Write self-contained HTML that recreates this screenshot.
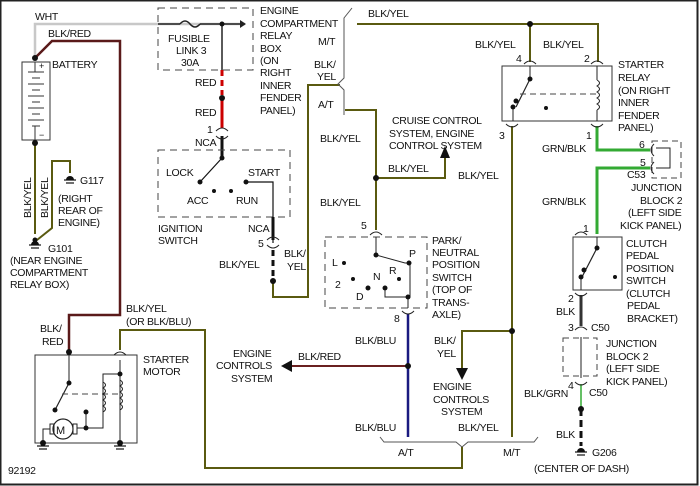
<!DOCTYPE html>
<html><head><meta charset="utf-8"><style>
html,body{margin:0;padding:0;background:#fff}
svg{display:block}
text{font-family:"Liberation Sans",Arial,sans-serif;font-size:10.5px;fill:#111;letter-spacing:-0.3px}
</style></head><body>
<svg width="700" height="486" viewBox="0 0 700 486" xmlns="http://www.w3.org/2000/svg">
<rect x="0.5" y="0.5" width="697" height="484" fill="#fff" stroke="#222" stroke-width="2"/>
<g fill="none" stroke-linejoin="miter">
<!-- WHT -->
<polyline points="35,58 35,24 245,24" stroke="#c8c8c8" stroke-width="2.5"/>
<polyline points="158,24 180,24" stroke="#222" stroke-width="1.5"/>
<path d="M180,24 q5,-6 10,0 q5,6 10,0" stroke="#222" stroke-width="1.5"/>
<line x1="200" y1="24" x2="240" y2="24" stroke="#222" stroke-width="1.5"/>
<polygon points="240,20 246,24 240,28" fill="#222"/>
<line x1="222" y1="24" x2="222" y2="70" stroke="#222" stroke-width="1.5"/>
<!-- fusible box -->
<rect x="158" y="8" width="95" height="62" stroke="#444" stroke-width="1" stroke-dasharray="7,5"/>
<!-- red -->
<line x1="222" y1="70" x2="222" y2="95" stroke="#c00" stroke-width="3" stroke-dasharray="6,4"/>
<line x1="222" y1="100" x2="222" y2="128" stroke="#c00" stroke-width="3"/>
<line x1="222" y1="136" x2="222" y2="158" stroke="#111" stroke-width="3"/>
<!-- BLK/RED -->
<polyline points="35,58 52,41 120,41 120,315 69,315 69,352" stroke="#5a1a1a" stroke-width="2.5"/>
<!-- Battery -->
<rect x="22" y="62" width="28" height="78" stroke="#333" stroke-width="1"/>
<g stroke="#333" stroke-width="1">
<line x1="28" y1="72" x2="44" y2="72"/><line x1="32" y1="78" x2="40" y2="78"/>
<line x1="28" y1="84" x2="44" y2="84"/><line x1="32" y1="90" x2="40" y2="90"/>
<line x1="28" y1="96" x2="44" y2="96"/><line x1="32" y1="102" x2="40" y2="102"/>
<line x1="28" y1="108" x2="44" y2="108"/><line x1="32" y1="114" x2="40" y2="114"/>
<line x1="28" y1="120" x2="44" y2="120"/><line x1="32" y1="126" x2="40" y2="126"/>
<line x1="35" y1="62" x2="35" y2="72"/><line x1="35" y1="126" x2="35" y2="140"/>
</g>
<!-- BLK/YEL grounds -->
<polyline points="35,143 35,234" stroke="#5a5a10" stroke-width="2"/>
<polyline points="37,240 52,228 52,161 70,161 70,173" stroke="#5a5a10" stroke-width="2"/>
<!-- Ignition switch -->
<rect x="158" y="150" width="132" height="67" stroke="#444" stroke-width="1" stroke-dasharray="7,5"/>
<line x1="222" y1="158" x2="200" y2="182" stroke="#111" stroke-width="1.2"/>
<polyline points="246,182 273,182 273,243" stroke="#111" stroke-width="1.2"/>
<line x1="273" y1="217" x2="273" y2="240" stroke="#111" stroke-width="3"/>
<line x1="273" y1="250" x2="273" y2="281" stroke="#111" stroke-width="3" stroke-dasharray="6,4"/>
<polyline points="273,281 273,297 308,297 308,85 340,85" stroke="#5a5a10" stroke-width="2"/>
<!-- bracket near M/T A/T -->
<path d="M352,8 l-8,10 v60 l-6,6 l6,6 v25" stroke="#555" stroke-width="1"/>
<!-- top BLK/YEL -->
<polyline points="357,24 598,24 598,62" stroke="#5a5a10" stroke-width="2"/>
<line x1="530" y1="24" x2="530" y2="62" stroke="#5a5a10" stroke-width="2"/>
<!-- relay -->
<rect x="502" y="66" width="110" height="55" stroke="#333" stroke-width="1"/>
<line x1="530" y1="66" x2="530" y2="79" stroke="#222" stroke-width="1"/>
<line x1="530" y1="79" x2="516" y2="107" stroke="#222" stroke-width="1.2"/>
<line x1="513" y1="107" x2="513" y2="121" stroke="#222" stroke-width="1"/>
<line x1="520" y1="94" x2="596" y2="94" stroke="#444" stroke-width="1" stroke-dasharray="6,4"/>
<line x1="597" y1="66" x2="597" y2="80" stroke="#222" stroke-width="1"/>
<path d="M597,80 q5,3 0,6 q5,3 0,6 q5,3 0,6 q5,3 0,6 q5,3 0,6" stroke="#222" stroke-width="1"/>
<line x1="597" y1="110" x2="597" y2="121" stroke="#222" stroke-width="1"/>
<!-- pin3 wire -->
<polyline points="512,126 512,437" stroke="#5a5a10" stroke-width="2"/>
<polyline points="512,331 462,331 462,368" stroke="#5a5a10" stroke-width="2"/>
<!-- GRN/BLK -->
<polyline points="597,126 597,150 650,150" stroke="#3a3" stroke-width="3"/>
<polyline points="650,168 597,168 597,234" stroke="#3a3" stroke-width="3"/>
<rect x="652" y="141" width="29" height="37" stroke="#444" stroke-width="1" stroke-dasharray="6,4"/>
<polyline points="656,148 670,148 670,168 656,168" stroke="#222" stroke-width="1"/>
<!-- clutch switch -->
<rect x="573" y="237" width="49" height="53" stroke="#333" stroke-width="1"/>
<line x1="597" y1="237" x2="597" y2="248" stroke="#222" stroke-width="1"/>
<line x1="597" y1="248" x2="582" y2="277" stroke="#222" stroke-width="1.2"/>
<line x1="581" y1="277" x2="581" y2="290" stroke="#222" stroke-width="1"/>
<line x1="581" y1="295" x2="581" y2="326" stroke="#333" stroke-width="3"/>
<rect x="563" y="338" width="34" height="38" stroke="#444" stroke-width="1" stroke-dasharray="6,4"/>
<line x1="581" y1="337" x2="581" y2="378" stroke="#222" stroke-width="1"/>
<line x1="581" y1="384" x2="581" y2="409" stroke="#3a3" stroke-width="1.5"/>
<line x1="581" y1="409" x2="581" y2="446" stroke="#111" stroke-width="3" stroke-dasharray="7,4"/>
<!-- A/T branch -->
<polyline points="345,110 376,110 376,230" stroke="#5a5a10" stroke-width="2"/>
<polyline points="376,178 445,178 445,158" stroke="#5a5a10" stroke-width="2"/>
<!-- PNP -->
<rect x="325" y="237" width="102" height="71" stroke="#444" stroke-width="1" stroke-dasharray="7,5"/>
<polyline points="376,237 376,255 405,263 410,263 410,297 385,297 385,288" stroke="#222" stroke-width="1"/>
<line x1="408" y1="297" x2="408" y2="308" stroke="#222" stroke-width="1"/>
<line x1="408" y1="314" x2="408" y2="437" stroke="#1a1a80" stroke-width="2.5"/>
<line x1="408" y1="366" x2="290" y2="366" stroke="#6a2020" stroke-width="2"/>
<!-- bottom bracket -->
<path d="M380,437 l4,5 h72 l6,5 l6,-5 h66 l4,-5" stroke="#555" stroke-width="1"/>
<polyline points="462,447 462,468 205,468 205,330 120,330 120,350" stroke="#5a5a10" stroke-width="2"/>
<!-- starter -->
<rect x="35" y="355" width="102" height="88" stroke="#333" stroke-width="1"/>
<line x1="69" y1="355" x2="69" y2="383" stroke="#222" stroke-width="1"/>
<line x1="69" y1="383" x2="55" y2="410" stroke="#222" stroke-width="1.2"/>
<line x1="62" y1="394" x2="120" y2="394" stroke="#444" stroke-width="1" stroke-dasharray="6,4"/>
<line x1="120" y1="360" x2="120" y2="443" stroke="#222" stroke-width="1"/>
<polyline points="120,374 103,374 103,428 86,428" stroke="#222" stroke-width="1"/>
<path d="M120,380 q5,3 0,6 q5,3 0,6 q5,3 0,6 q5,3 0,6 q5,3 0,6" stroke="#222" stroke-width="1"/>
<path d="M103,382 q5,3 0,6 q5,3 0,6 q5,3 0,6 q5,3 0,6 q5,3 0,6" stroke="#222" stroke-width="1"/>
<line x1="86" y1="412" x2="86" y2="428" stroke="#222" stroke-width="1"/>
<circle cx="63" cy="429" r="10" stroke="#222" stroke-width="1.2"/>
<rect x="50" y="424" width="4" height="10" stroke="#222" stroke-width="1"/>
<rect x="73" y="424" width="4" height="10" stroke="#222" stroke-width="1"/>
<polyline points="77,428 86,428" stroke="#222"/>
<polyline points="50,429 43,429 43,443" stroke="#222"/>
<!-- connector arcs -->
<g stroke="#222" stroke-width="1">
<path d="M216,131 q6,-6 12,0"/><path d="M216,136 q6,6 12,0"/>
<path d="M267,240 q6,-6 12,0"/><path d="M267,245 q6,6 12,0"/>
<path d="M524,64 q6,-6 12,0"/><path d="M591,64 q6,-6 12,0"/>
<path d="M506,124 q6,6 12,0"/><path d="M591,124 q6,6 12,0"/>
<path d="M370,235 q6,-6 12,0"/><path d="M402,311 q6,6 12,0"/>
<path d="M114,355 q6,-6 12,0"/>
<path d="M575,235 q6,-6 12,0"/><path d="M575,293 q6,6 12,0"/>
<path d="M575,330 q6,-6 12,0"/><path d="M575,382 q6,6 12,0"/>
<path d="M654,144 q-6,6 0,12"/><path d="M654,162 q-6,6 0,12"/>
</g>
</g>
<!-- arrowheads -->
<g fill="#111">
<polygon points="440,158 450,158 445,146"/>
<polygon points="456,368 468,368 462,380"/>
<polygon points="292,360 292,372 281,366"/>
</g>
<!-- dots -->
<g fill="#111">
<circle cx="35" cy="58" r="3"/><circle cx="35" cy="143" r="3"/><circle cx="222" cy="24" r="2.5"/>
<circle cx="222" cy="98" r="3"/><circle cx="222" cy="158" r="2.5"/><circle cx="200" cy="182" r="2.5"/>
<circle cx="214" cy="191" r="2"/><circle cx="231" cy="191" r="2"/><circle cx="246" cy="182" r="2.5"/>
<circle cx="273" cy="281" r="3"/><circle cx="530" cy="24" r="3"/><circle cx="376" cy="178" r="3"/>
<circle cx="530" cy="79" r="2.5"/><circle cx="516" cy="101" r="2.5"/><circle cx="513" cy="107" r="2.5"/>
<circle cx="546" cy="108" r="2"/><circle cx="512" cy="331" r="3"/><circle cx="408" cy="366" r="3"/>
<circle cx="597" cy="248" r="2.5"/><circle cx="584" cy="270" r="2.5"/><circle cx="581" cy="277" r="2.5"/>
<circle cx="615" cy="277" r="2"/><circle cx="581" cy="409" r="3"/>
<circle cx="376" cy="255" r="2.5"/><circle cx="409" cy="263" r="2.5"/><circle cx="408" cy="297" r="2.5"/>
<circle cx="385" cy="288" r="2.5"/><circle cx="368" cy="288" r="2.5"/><circle cx="344" cy="263" r="2"/>
<circle cx="353" cy="279" r="2"/><circle cx="399" cy="279" r="2"/>
<circle cx="69" cy="352" r="3"/><circle cx="69" cy="383" r="2.5"/><circle cx="55" cy="410" r="2.5"/>
<circle cx="120" cy="374" r="2.5"/><circle cx="86" cy="412" r="2.5"/><circle cx="86" cy="428" r="2.5"/>
<circle cx="43" cy="443" r="3"/><circle cx="120" cy="443" r="3"/>
</g>
<!-- grounds -->
<g stroke="#111" stroke-width="1.2">
<line x1="64" y1="180" x2="76" y2="180"/><line x1="66" y1="183" x2="74" y2="183"/>
<line x1="29" y1="245" x2="41" y2="245"/><line x1="31" y1="248" x2="39" y2="248"/>
<line x1="37" y1="446" x2="49" y2="446"/><line x1="39" y1="449" x2="47" y2="449"/>
<line x1="114" y1="446" x2="126" y2="446"/><line x1="116" y1="449" x2="124" y2="449"/>
<line x1="575" y1="452" x2="587" y2="452"/><line x1="577" y1="455" x2="585" y2="455"/>
</g>
<g fill="#111"><path d="M66,180 a4,4 0 0 1 8,0z"/><path d="M31,245 a4,4 0 0 1 8,0z"/><path d="M577,452 a4,4 0 0 1 8,0z"/><circle cx="35" cy="240" r="2.5"/></g>
<!-- text -->
<text x="35" y="20">WHT</text>
<text x="48" y="37">BLK/RED</text>
<text x="52" y="68">BATTERY</text>
<text x="39" y="69" style="font-size:9px">+</text>
<text x="39" y="138" style="font-size:9px">−</text>
<text x="80" y="184">G117</text>
<text x="58" y="202">(RIGHT</text><text x="58" y="214">REAR OF</text><text x="58" y="226">ENGINE)</text>
<text x="48" y="252">G101</text>
<text x="10" y="264">(NEAR ENGINE</text><text x="10" y="276">COMPARTMENT</text><text x="10" y="288">RELAY BOX)</text>
<text transform="translate(31,218) rotate(-90)">BLK/YEL</text>
<text transform="translate(48,218) rotate(-90)">BLK/YEL</text>
<text x="168" y="42">FUSIBLE</text><text x="176" y="54">LINK 3</text><text x="181" y="66">30A</text>
<text x="260" y="14">ENGINE</text><text x="260" y="27">COMPARTMENT</text><text x="260" y="39">RELAY</text>
<text x="260" y="52">BOX</text><text x="260" y="64">(ON</text><text x="260" y="76">RIGHT</text>
<text x="260" y="89">INNER</text><text x="260" y="101">FENDER</text><text x="260" y="114">PANEL)</text>
<text x="195" y="86">RED</text><text x="195" y="116">RED</text>
<text x="207" y="133">1</text><text x="195" y="146">NCA</text>
<text x="166" y="176">LOCK</text><text x="248" y="176">START</text>
<text x="187" y="204">ACC</text><text x="236" y="204">RUN</text>
<text x="158" y="232">IGNITION</text><text x="158" y="244">SWITCH</text>
<text x="248" y="232">NCA</text><text x="258" y="247">5</text>
<text x="219" y="268">BLK/YEL</text>
<text x="284" y="257">BLK/</text><text x="287" y="270">YEL</text>
<text x="318" y="45">M/T</text>
<text x="314" y="68">BLK/</text><text x="317" y="80">YEL</text>
<text x="318" y="108">A/T</text>
<text x="368" y="17">BLK/YEL</text>
<text x="320" y="142">BLK/YEL</text>
<text x="320" y="206">BLK/YEL</text>
<text x="475" y="48">BLK/YEL</text><text x="543" y="48">BLK/YEL</text>
<text x="516" y="62">4</text><text x="584" y="62">2</text>
<text x="618" y="68">STARTER</text><text x="618" y="81">RELAY</text><text x="618" y="94">(ON RIGHT</text>
<text x="618" y="106">INNER</text><text x="618" y="119">FENDER</text><text x="618" y="131">PANEL)</text>
<text x="499" y="139">3</text><text x="586" y="139">1</text>
<text x="542" y="152">GRN/BLK</text>
<text x="639" y="148">6</text><text x="640" y="166">5</text>
<text x="627" y="178">C53</text>
<text x="631" y="191">JUNCTION</text><text x="640" y="204">BLOCK 2</text>
<text x="628" y="216">(LEFT SIDE</text><text x="620" y="229">KICK PANEL)</text>
<text x="542" y="205">GRN/BLK</text>
<text x="583" y="232">1</text>
<text x="392" y="124">CRUISE CONTROL</text><text x="389" y="137">SYSTEM, ENGINE</text><text x="389" y="149">CONTROL SYSTEM</text>
<text x="388" y="172">BLK/YEL</text><text x="458" y="179">BLK/YEL</text>
<text x="361" y="229">5</text>
<text x="432" y="244">PARK/</text><text x="432" y="256">NEUTRAL</text><text x="432" y="268">POSITION</text>
<text x="432" y="281">SWITCH</text><text x="432" y="293">(TOP OF</text><text x="432" y="306">TRANS-</text><text x="432" y="318">AXLE)</text>
<text x="332" y="266">L</text><text x="335" y="288">2</text><text x="356" y="300">D</text>
<text x="373" y="280">N</text><text x="389" y="274">R</text><text x="409" y="257">P</text>
<text x="394" y="322">8</text>
<text x="355" y="344">BLK/BLU</text><text x="355" y="431">BLK/BLU</text>
<text x="434" y="344">BLK/</text><text x="437" y="357">YEL</text>
<text x="433" y="390">ENGINE</text><text x="433" y="403">CONTROLS</text><text x="441" y="415">SYSTEM</text>
<text x="458" y="431">BLK/YEL</text>
<text x="398" y="456">A/T</text><text x="503" y="456">M/T</text>
<text x="298" y="360">BLK/RED</text>
<text x="233" y="357">ENGINE</text><text x="216" y="369">CONTROLS</text><text x="231" y="382">SYSTEM</text>
<text x="126" y="312">BLK/YEL</text><text x="126" y="325">(OR BLK/BLU)</text>
<text x="40" y="332">BLK/</text><text x="42" y="345">RED</text>
<text x="143" y="363">STARTER</text><text x="143" y="375">MOTOR</text>
<text x="56" y="434" style="font-size:11px">M</text>
<text x="8" y="474">92192</text>
<text x="626" y="247">CLUTCH</text><text x="626" y="259">PEDAL</text><text x="626" y="272">POSITION</text>
<text x="626" y="284">SWITCH</text><text x="626" y="297">(CLUTCH</text><text x="627" y="309">PEDAL</text><text x="627" y="322">BRACKET)</text>
<text x="568" y="302">2</text><text x="556" y="315">BLK</text>
<text x="568" y="331">3</text><text x="591" y="331">C50</text>
<text x="606" y="347">JUNCTION</text><text x="606" y="360">BLOCK 2</text>
<text x="606" y="372">(LEFT SIDE</text><text x="606" y="385">KICK PANEL)</text>
<text x="568" y="389">4</text><text x="589" y="396">C50</text>
<text x="524" y="397">BLK/GRN</text>
<text x="556" y="438">BLK</text>
<text x="592" y="456">G206</text>
<text x="534" y="472">(CENTER OF DASH)</text>
</svg>
</body></html>
